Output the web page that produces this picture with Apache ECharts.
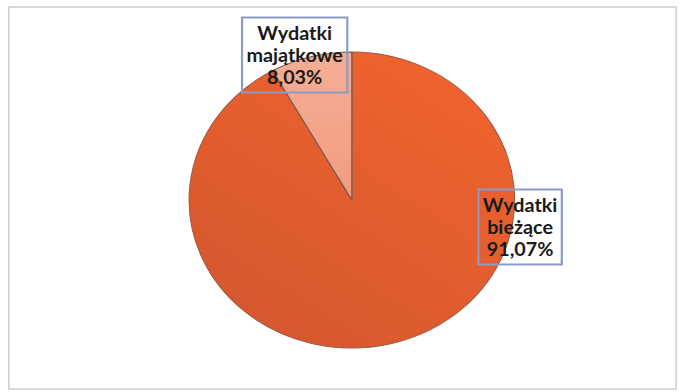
<!DOCTYPE html>
<html>
<head>
<meta charset="utf-8">
<script src="https://cdn.jsdelivr.net/npm/echarts@6/dist/echarts.min.js"></script>
<style>
html,body{margin:0;padding:0;background:#ffffff;overflow:hidden;}
#c{width:623px;height:392px;transform:scaleX(1.0995);transform-origin:0 0;}
</style>
</head>
<body>
<div id="c"></div>
<script>
// Data
const categories = ['Wydatki bieżące', 'Wydatki majątkowe'];
const values = [91.07, 8.03];
const percentLabels = ['91,07%', '8,03%'];

const chart = echarts.init(document.getElementById('c'), null, {renderer: 'svg'});

const labelPos = [
  {x: 473, y: 227},
  {x: 268, y: 55}
];

const sliceStyles = [
  {
    color: {type: 'linear', x: 0.85, y: 0, x2: 0.15, y2: 1,
      colorStops: [{offset: 0, color: '#F1632E'}, {offset: 1, color: '#D4572F'}]},
    borderColor: '#a05a44', borderWidth: 1
  },
  {
    color: {type: 'linear', x: 0.5, y: 0, x2: 0.5, y2: 1,
      colorStops: [{offset: 0, color: '#F5AE94'}, {offset: 1, color: '#F19C80'}]},
    borderColor: '#7d5a4c', borderWidth: 1.2
  }
];

const option = {
  backgroundColor: '#ffffff',
  animation: false,
  graphic: [{
    type: 'rect',
    shape: {x: 8, y: 7, width: 607, height: 382},
    style: {fill: 'none', stroke: '#cccccc', lineWidth: 1.3},
    z: -1
  }],
  series: [{
    type: 'pie',
    center: [320, 200],
    radius: 148,
    startAngle: 90,
    clockwise: true,
    data: categories.map((name, i) => ({
      name: name,
      value: values[i],
      itemStyle: sliceStyles[i]
    })),
    label: {
      show: true,
      formatter: function (p) {
        return p.name.split(' ').join('\n') + '\n' + percentLabels[p.dataIndex];
      },
      fontFamily: 'Lato',
      fontWeight: 'bold',
      fontSize: 18,
      lineHeight: 22,
      color: '#1a1a1a',
      align: 'center',
      backgroundColor: 'transparent',
      borderColor: '#8a9bc4',
      borderWidth: 1,
      padding: [5, 4, 4, 4]
    },
    labelLine: {show: false},
    labelLayout: function (params) {
      const p = labelPos[params.dataIndex];
      return {x: p.x, y: p.y, align: 'center', verticalAlign: 'middle', hideOverlap: false};
    },
    emphasis: {disabled: true}
  }]
};
chart.setOption(option);
</script>
</body>
</html>
